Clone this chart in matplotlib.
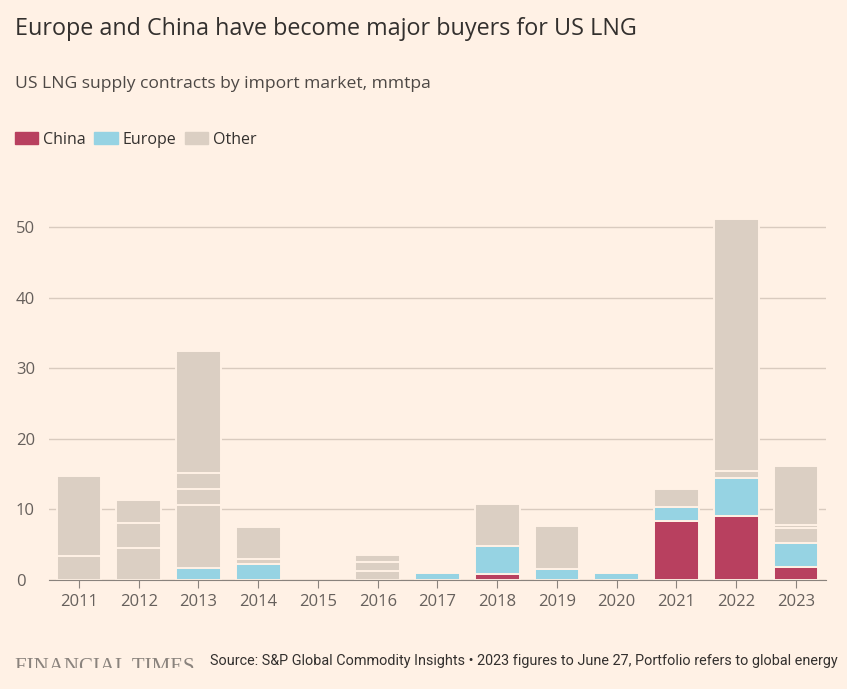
import matplotlib.pyplot as plt
import matplotlib.patches as mpatches

# chart data (mmtpa), each inner list = contracts stacked in the bar
years = ['2011', '2012', '2013', '2014', '2015', '2016', '2017',
         '2018', '2019', '2020', '2021', '2022', '2023']
china = [[], [], [], [], [], [], [], [0.8], [], [], [8.3], [9.1], [1.9]]
europe = [[], [], [1.65], [2.2], [], [], [1.0], [4.0], [1.5], [1.0],
          [2.0], [5.4], [3.4]]
other = [[3.4, 11.3], [4.5, 3.6, 3.2], [8.95, 2.25, 2.25, 17.4],
         [0.8, 4.55], [], [1.3, 1.3, 1.0], [], [5.9], [6.2], [],
         [2.6], [1.0, 35.6], [2.1, 0.4, 8.4]]
yticks = [0, 10, 20, 30, 40, 50]

# styling
bg = '#fff1e5'
col_china = '#b8405f'
col_europe = '#96d3e3'
col_other = '#dbcfc3'
grid_col = '#d9cbbf'
text_col = '#33302e'

plt.rcParams['font.family'] = ['Open Sans', 'DejaVu Sans']

fig = plt.figure(figsize=(8.47, 6.89), dpi=100, facecolor=bg)
ax = fig.add_axes([0.058, 0.1582, 0.917, 0.5636], facecolor=bg)

# stacked bars, one rectangle per contract
for i in range(len(years)):
    bottom = 0.0
    for vals, c in [(china[i], col_china), (europe[i], col_europe), (other[i], col_other)]:
        for v in vals:
            ax.bar(i, v, bottom=bottom, width=0.75, color=c,
                   edgecolor=bg, linewidth=1.4, zorder=3)
            bottom += v

ax.set_xlim(-0.5, len(years) - 0.5)
ax.set_ylim(0, 55)
ax.set_yticks(yticks)
ax.set_xticks(range(len(years)))
ax.set_xticklabels(years)
ax.grid(axis='y', color=grid_col, linewidth=1, zorder=0)
for s in ['top', 'right', 'left']:
    ax.spines[s].set_visible(False)
ax.spines['bottom'].set_color('#8a837d')
ax.spines['bottom'].set_zorder(4)
ax.tick_params(axis='y', length=0, pad=24, labelsize=12, labelcolor='#66605c')
ax.tick_params(axis='x', length=6, color='#8a837d', pad=4, labelsize=12,
               labelcolor='#66605c')
for lab in ax.get_yticklabels():
    lab.set_horizontalalignment('left')

# titles
fig.text(0.018, 0.958, 'Europe and China have become major buyers for US LNG',
         fontsize=16.8, color=text_col, va='center')
fig.text(0.018, 0.878, 'US LNG supply contracts by import market, mmtpa',
         fontsize=12.6, color='#4d4845', va='center')

# legend
handles = [mpatches.Patch(color=col_china, label='China'),
           mpatches.Patch(color=col_europe, label='Europe'),
           mpatches.Patch(color=col_other, label='Other')]
fig.legend(handles=handles, loc='center left', bbox_to_anchor=(0.0177, 0.797),
           ncol=3, frameon=False, fontsize=11.5, handlelength=1.45,
           handleheight=0.75, handletextpad=0.3, columnspacing=0.55,
           borderpad=0, borderaxespad=0, labelcolor=text_col)

# footer (logo is cut off at the bottom edge in the original)
fig.text(0.018, 0.0247, 'FINANCIAL TIMES', fontsize=15,
         family=['Liberation Serif', 'DejaVu Serif'], color='#8a837d',
         va='baseline')
fig.patches.append(mpatches.Rectangle((0, 0), 0.24, 0.0305, transform=fig.transFigure,
                                      facecolor=bg, edgecolor='none', zorder=10))
fig.text(0.989, 0.04, 'Source: S&P Global Commodity Insights \u2022 2023 figures to June 27, '
         'Portfolio refers to global energy', fontsize=10.4, color=text_col,
         ha='right', va='center', family=['Roboto', 'DejaVu Sans'], zorder=11)

fig.savefig('out.png', dpi=100, facecolor=bg)
